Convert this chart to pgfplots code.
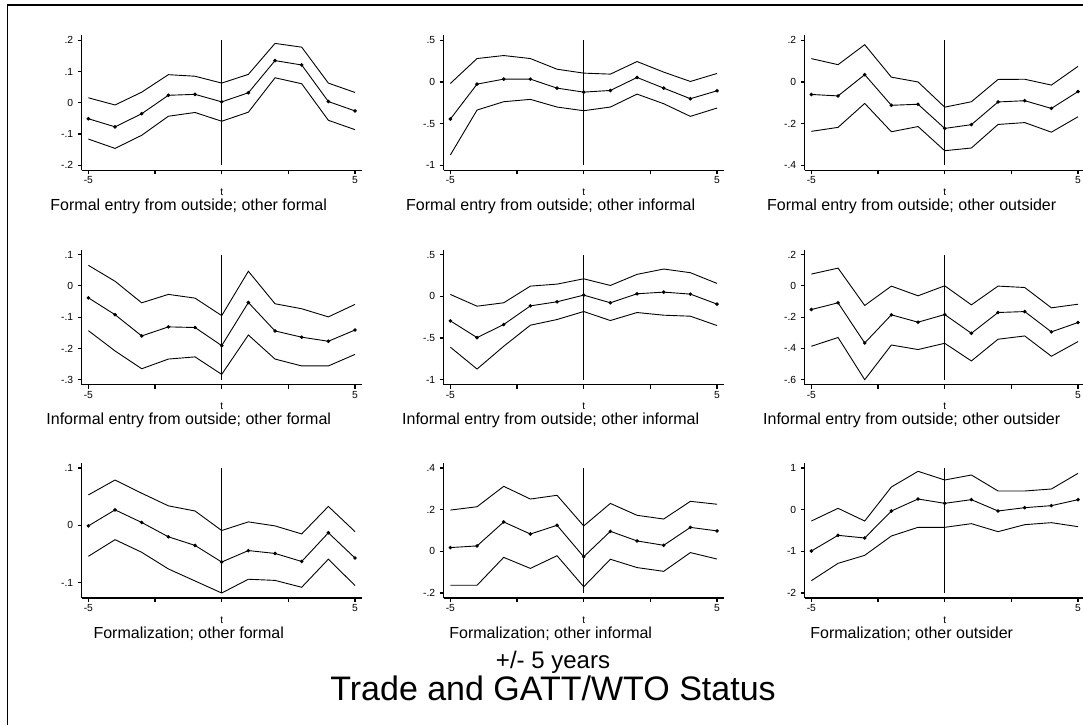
\documentclass[border=0pt]{standalone}
\usepackage{pgfplots}
\pgfplotsset{compat=1.18}
\usepackage{pgfplotstable}
\usepackage{fontspec}
\setmainfont{Liberation Sans}

\pgfplotstableread{
t up mid lo
-5 0.016 -0.051 -0.116
-4 -0.007 -0.077 -0.146
-3 0.034 -0.035 -0.104
-2 0.090 0.024 -0.043
-1 0.085 0.027 -0.031
0 0.063 0.003 -0.059
1 0.091 0.032 -0.030
2 0.190 0.135 0.080
3 0.178 0.121 0.061
4 0.063 0.004 -0.056
5 0.033 -0.026 -0.086
}\pA
\pgfplotstableread{
t up mid lo
-5 -0.018 -0.445 -0.876
-4 0.281 -0.026 -0.337
-3 0.317 0.034 -0.237
-2 0.281 0.034 -0.209
-1 0.153 -0.074 -0.301
0 0.106 -0.122 -0.345
1 0.094 -0.102 -0.301
2 0.245 0.054 -0.146
3 0.118 -0.074 -0.261
4 0.006 -0.201 -0.413
5 0.102 -0.106 -0.313
}\pB
\pgfplotstableread{
t up mid lo
-5 0.112 -0.060 -0.237
-4 0.083 -0.067 -0.218
-3 0.179 0.035 -0.103
-2 0.023 -0.112 -0.239
-1 0.000 -0.107 -0.214
0 -0.121 -0.223 -0.330
1 -0.095 -0.205 -0.317
2 0.012 -0.096 -0.204
3 0.013 -0.090 -0.195
4 -0.015 -0.127 -0.241
5 0.075 -0.046 -0.167
}\pC
\pgfplotstableread{
t up mid lo
-5 0.066 -0.038 -0.143
-4 0.015 -0.092 -0.208
-3 -0.054 -0.160 -0.265
-2 -0.027 -0.131 -0.234
-1 -0.039 -0.133 -0.227
0 -0.095 -0.191 -0.283
1 0.047 -0.053 -0.157
2 -0.057 -0.144 -0.234
3 -0.073 -0.164 -0.256
4 -0.099 -0.177 -0.256
5 -0.059 -0.141 -0.219
}\pD
\pgfplotstableread{
t up mid lo
-5 0.023 -0.294 -0.610
-4 -0.118 -0.495 -0.872
-3 -0.077 -0.338 -0.599
-2 0.123 -0.114 -0.346
-1 0.147 -0.065 -0.278
0 0.211 0.015 -0.182
1 0.131 -0.077 -0.290
2 0.264 0.031 -0.194
3 0.328 0.051 -0.226
4 0.284 0.027 -0.238
5 0.155 -0.093 -0.350
}\pE
\pgfplotstableread{
t up mid lo
-5 0.076 -0.151 -0.386
-4 0.114 -0.108 -0.330
-3 -0.125 -0.365 -0.600
-2 -0.001 -0.185 -0.378
-1 -0.063 -0.232 -0.407
0 0.001 -0.183 -0.367
1 -0.121 -0.303 -0.480
2 -0.001 -0.170 -0.341
3 -0.010 -0.164 -0.320
4 -0.140 -0.294 -0.450
5 -0.117 -0.234 -0.356
}\pF
\pgfplotstableread{
t up mid lo
-5 0.053 -0.001 -0.054
-4 0.079 0.027 -0.025
-3 0.056 0.005 -0.047
-2 0.034 -0.020 -0.076
-1 0.025 -0.035 -0.097
0 -0.009 -0.064 -0.118
1 0.006 -0.044 -0.094
2 -0.001 -0.049 -0.096
3 -0.015 -0.063 -0.108
4 0.033 -0.013 -0.059
5 -0.011 -0.057 -0.105
}\pG
\pgfplotstableread{
t up mid lo
-5 0.198 0.018 -0.163
-4 0.214 0.026 -0.163
-3 0.312 0.141 -0.029
-2 0.251 0.083 -0.082
-1 0.269 0.125 -0.021
0 0.122 -0.026 -0.170
1 0.230 0.096 -0.038
2 0.173 0.050 -0.078
3 0.155 0.029 -0.096
4 0.240 0.115 -0.006
5 0.226 0.098 -0.037
}\pH
\pgfplotstableread{
t up mid lo
-5 -0.272 -0.992 -1.704
-4 0.032 -0.616 -1.288
-3 -0.272 -0.680 -1.096
-2 0.544 -0.032 -0.632
-1 0.920 0.256 -0.424
0 0.712 0.152 -0.424
1 0.832 0.240 -0.336
2 0.448 -0.032 -0.528
3 0.448 0.048 -0.360
4 0.496 0.096 -0.312
5 0.872 0.240 -0.408
}\pI

\pgfplotsset{
  panel/.style={
    scale only axis, width=280pt, height=135pt, anchor=south west,
    xmin=-5.25, xmax=5.25, enlargelimits=false, clip=false,
    axis x line*=bottom, axis y line*=left,
    axis line style={line width=1.1pt, -},
    tick align=outside, major tick length=4pt,
    every tick/.style={black, line width=1.1pt},
    xtick={-5,-2.5,0,2.5,5}, xticklabels={-5,,,,5},
    ticklabel style={font=\fontsize{10.3}{11}\selectfont},
    xticklabel style={yshift=1pt},
    yticklabel style={xshift=-1pt},
    ptitle/.style={after end axis/.append code={
      \node[anchor=base, inner sep=0pt, font=\fontsize{10.3}{11}\selectfont]
        at ([yshift=-25pt]axis description cs:0.5,0) {t};
      \node[anchor=base, inner sep=0pt, font=\fontsize{16}{18}\selectfont]
        at ([xshift=-33pt,yshift=-40pt]axis description cs:0.5,0) {##1};
    }},
  },
  ci/.style={black, line width=0.9pt, no marks},
  est/.style={black, line width=0.9pt, mark=*, mark size=1.3pt},
  vl/.style={black, line width=1.1pt, no marks},
}

\begin{document}
\begin{tikzpicture}
\useasboundingbox (0pt,0pt) rectangle (1083pt,725pt);
\draw[line width=1.8pt] (7.5pt,0pt) -- (7.5pt,720pt) -- (1083pt,720pt);

% Row 1
\begin{axis}[panel, at={(81.7pt,554.7pt)}, ymin=-0.216, ymax=0.216,
  ytick={-0.2,-0.1,0,0.1,0.2}, yticklabels={-.2,-.1,0,.1,.2},
  ptitle={Formal entry from outside; other formal}]
\addplot[ci] table[x=t,y=up]{\pA};
\addplot[est] table[x=t,y=mid]{\pA};
\addplot[ci] table[x=t,y=lo]{\pA};
\addplot[vl] coordinates {(0,-0.2) (0,0.2)};
\end{axis}
\begin{axis}[panel, at={(443.7pt,554.7pt)}, ymin=-1.06, ymax=0.56,
  ytick={-1,-0.5,0,0.5}, yticklabels={-1,-.5,0,.5},
  ptitle={Formal entry from outside; other informal}]
\addplot[ci] table[x=t,y=up]{\pB};
\addplot[est] table[x=t,y=mid]{\pB};
\addplot[ci] table[x=t,y=lo]{\pB};
\addplot[vl] coordinates {(0,-1) (0,0.5)};
\end{axis}
\begin{axis}[panel, at={(804.7pt,554.7pt)}, ymin=-0.424, ymax=0.224,
  ytick={-0.4,-0.2,0,0.2}, yticklabels={-.4,-.2,0,.2},
  ptitle={Formal entry from outside; other outsider}]
\addplot[ci] table[x=t,y=up]{\pC};
\addplot[est] table[x=t,y=mid]{\pC};
\addplot[ci] table[x=t,y=lo]{\pC};
\addplot[vl] coordinates {(0,-0.4) (0,0.2)};
\end{axis}

% Row 2
\begin{axis}[panel, at={(81.7pt,340.3pt)}, ymin=-0.316, ymax=0.116,
  ytick={-0.3,-0.2,-0.1,0,0.1}, yticklabels={-.3,-.2,-.1,0,.1},
  ptitle={Informal entry from outside; other formal}]
\addplot[ci] table[x=t,y=up]{\pD};
\addplot[est] table[x=t,y=mid]{\pD};
\addplot[ci] table[x=t,y=lo]{\pD};
\addplot[vl] coordinates {(0,-0.3) (0,0.1)};
\end{axis}
\begin{axis}[panel, at={(443.7pt,340.3pt)}, ymin=-1.06, ymax=0.56,
  ytick={-1,-0.5,0,0.5}, yticklabels={-1,-.5,0,.5},
  ptitle={Informal entry from outside; other informal}]
\addplot[ci] table[x=t,y=up]{\pE};
\addplot[est] table[x=t,y=mid]{\pE};
\addplot[ci] table[x=t,y=lo]{\pE};
\addplot[vl] coordinates {(0,-1) (0,0.5)};
\end{axis}
\begin{axis}[panel, at={(804.7pt,340.3pt)}, ymin=-0.632, ymax=0.232,
  ytick={-0.6,-0.4,-0.2,0,0.2}, yticklabels={-.6,-.4,-.2,0,.2},
  ptitle={Informal entry from outside; other outsider}]
\addplot[ci] table[x=t,y=up]{\pF};
\addplot[est] table[x=t,y=mid]{\pF};
\addplot[ci] table[x=t,y=lo]{\pF};
\addplot[vl] coordinates {(0,-0.6) (0,0.2)};
\end{axis}

% Row 3
\begin{axis}[panel, at={(81.7pt,127pt)}, ymin=-0.1267, ymax=0.1087,
  ytick={-0.1,0,0.1}, yticklabels={-.1,0,.1},
  ptitle={Formalization; other formal}]
\addplot[ci] table[x=t,y=up]{\pG};
\addplot[est] table[x=t,y=mid]{\pG};
\addplot[ci] table[x=t,y=lo]{\pG};
\addplot[vl] coordinates {(0,-0.118) (0,0.1)};
\end{axis}
\begin{axis}[panel, at={(443.7pt,127pt)}, ymin=-0.224, ymax=0.424,
  ytick={-0.2,0,0.2,0.4}, yticklabels={-.2,0,.2,.4},
  ptitle={Formalization; other informal}]
\addplot[ci] table[x=t,y=up]{\pH};
\addplot[est] table[x=t,y=mid]{\pH};
\addplot[ci] table[x=t,y=lo]{\pH};
\addplot[vl] coordinates {(0,-0.2) (0,0.4)};
\end{axis}
\begin{axis}[panel, at={(804.7pt,127pt)}, ymin=-2.12, ymax=1.12,
  ytick={-2,-1,0,1}, yticklabels={-2,-1,0,1},
  ptitle={Formalization; other outsider}]
\addplot[ci] table[x=t,y=up]{\pI};
\addplot[est] table[x=t,y=mid]{\pI};
\addplot[ci] table[x=t,y=lo]{\pI};
\addplot[vl] coordinates {(0,-2) (0,1)};
\end{axis}

\node[anchor=base, font=\fontsize{24}{26}\selectfont, inner sep=0pt] at (553pt,57pt) {+/- 5 years};
\node[anchor=base, font=\fontsize{34}{36}\selectfont, inner sep=0pt] at (553pt,25pt) {Trade and GATT/WTO Status};
\end{tikzpicture}
\end{document}
